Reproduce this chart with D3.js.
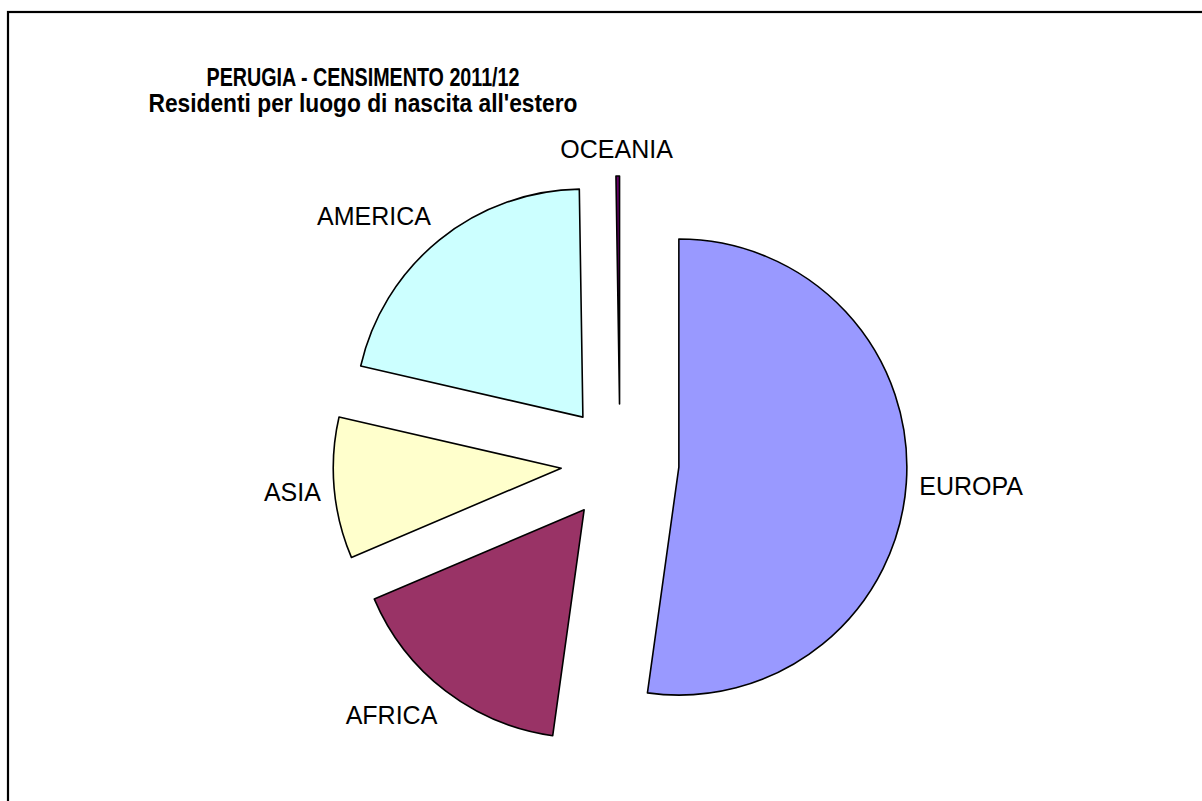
<!DOCTYPE html>
<html>
<head>
<meta charset="utf-8">
<script src="https://cdn.jsdelivr.net/npm/d3@7"></script>
<style>
  html, body { margin: 0; padding: 0; background: #fff; }
  svg { display: block; }
  text { font-family: "Liberation Sans", Arial, Helvetica, sans-serif; fill: #000; }
</style>
</head>
<body>
<svg id="chart" width="1202" height="801"></svg>
<script>
// Residents of Perugia born abroad, by continent of birth (share, %)
const continents = ["EUROPA", "AFRICA", "ASIA", "AMERICA", "OCEANIA"];
const shares = [52.2, 16.4, 10.0, 21.15, 0.25];
const sliceColors = ["#9999FF", "#993366", "#FFFFCC", "#CCFFFF", "#660066"];
const titleLines = ["PERUGIA - CENSIMENTO 2011/12", "Residenti per luogo di nascita all'estero"];

const width = 1202, height = 801;
const cx = 620, cy = 463, radius = 228, explode = 59, labelGap = 13;

const svg = d3.select("#chart");

// chart frame
svg.append("rect")
  .attr("x", 8).attr("y", 12)
  .attr("width", width).attr("height", height)
  .attr("fill", "none").attr("stroke", "#000").attr("stroke-width", 2.2);

// two-line bold title
const titleWidths = [313, 429];
svg.selectAll("text.title")
  .data(titleLines)
  .join("text")
  .attr("class", "title")
  .attr("x", 363)
  .attr("y", (d, i) => 86 + i * 26)
  .attr("text-anchor", "middle")
  .attr("font-weight", "bold")
  .attr("font-size", 25)
  .attr("textLength", (d, i) => titleWidths[i])
  .attr("lengthAdjust", "spacingAndGlyphs")
  .text(d => d);

const data = continents.map((c, i) => ({ name: c, value: shares[i], color: sliceColors[i] }));

const pie = d3.pie().value(d => d.value).sort(null);
const arc = d3.arc().innerRadius(0).outerRadius(radius);

const arcs = pie(data);
const g = svg.append("g").attr("transform", `translate(${cx},${cy})`);

const mid = d => (d.startAngle + d.endAngle) / 2;

// exploded slices
g.selectAll("path.slice")
  .data(arcs)
  .join("path")
  .attr("class", "slice")
  .attr("d", arc)
  .attr("transform", d => {
    const a = mid(d);
    return `translate(${Math.sin(a) * explode},${-Math.cos(a) * explode})`;
  })
  .attr("fill", d => d.data.color)
  .attr("stroke", "#000")
  .attr("stroke-width", 1.6)
  .attr("stroke-linejoin", "round");

// category labels outside each slice: the label box is pushed off an anchor
// point on the slice's mid-angle ray, aligned towards the outside
const clamp = v => Math.max(-1, Math.min(1, v));
g.selectAll("text.lbl")
  .data(arcs)
  .join("text")
  .attr("class", "lbl")
  .attr("font-size", 25)
  .attr("text-anchor", "middle")
  .attr("x", 0).attr("y", 0)
  .text(d => d.data.name)
  .each(function (d) {
    const a = mid(d);
    const bb = this.getBBox();
    const r = explode + radius + labelGap;
    const ax = Math.sin(a) * r, ay = -Math.cos(a) * r;
    const bx = ax + clamp(Math.sin(a) * 2) * bb.width / 2;
    const by = ay - clamp(Math.cos(a) * 2) * bb.height / 2;
    d3.select(this)
      .attr("x", bx - (bb.x + bb.width / 2))
      .attr("y", by - (bb.y + bb.height / 2));
  });
</script>
</body>
</html>
